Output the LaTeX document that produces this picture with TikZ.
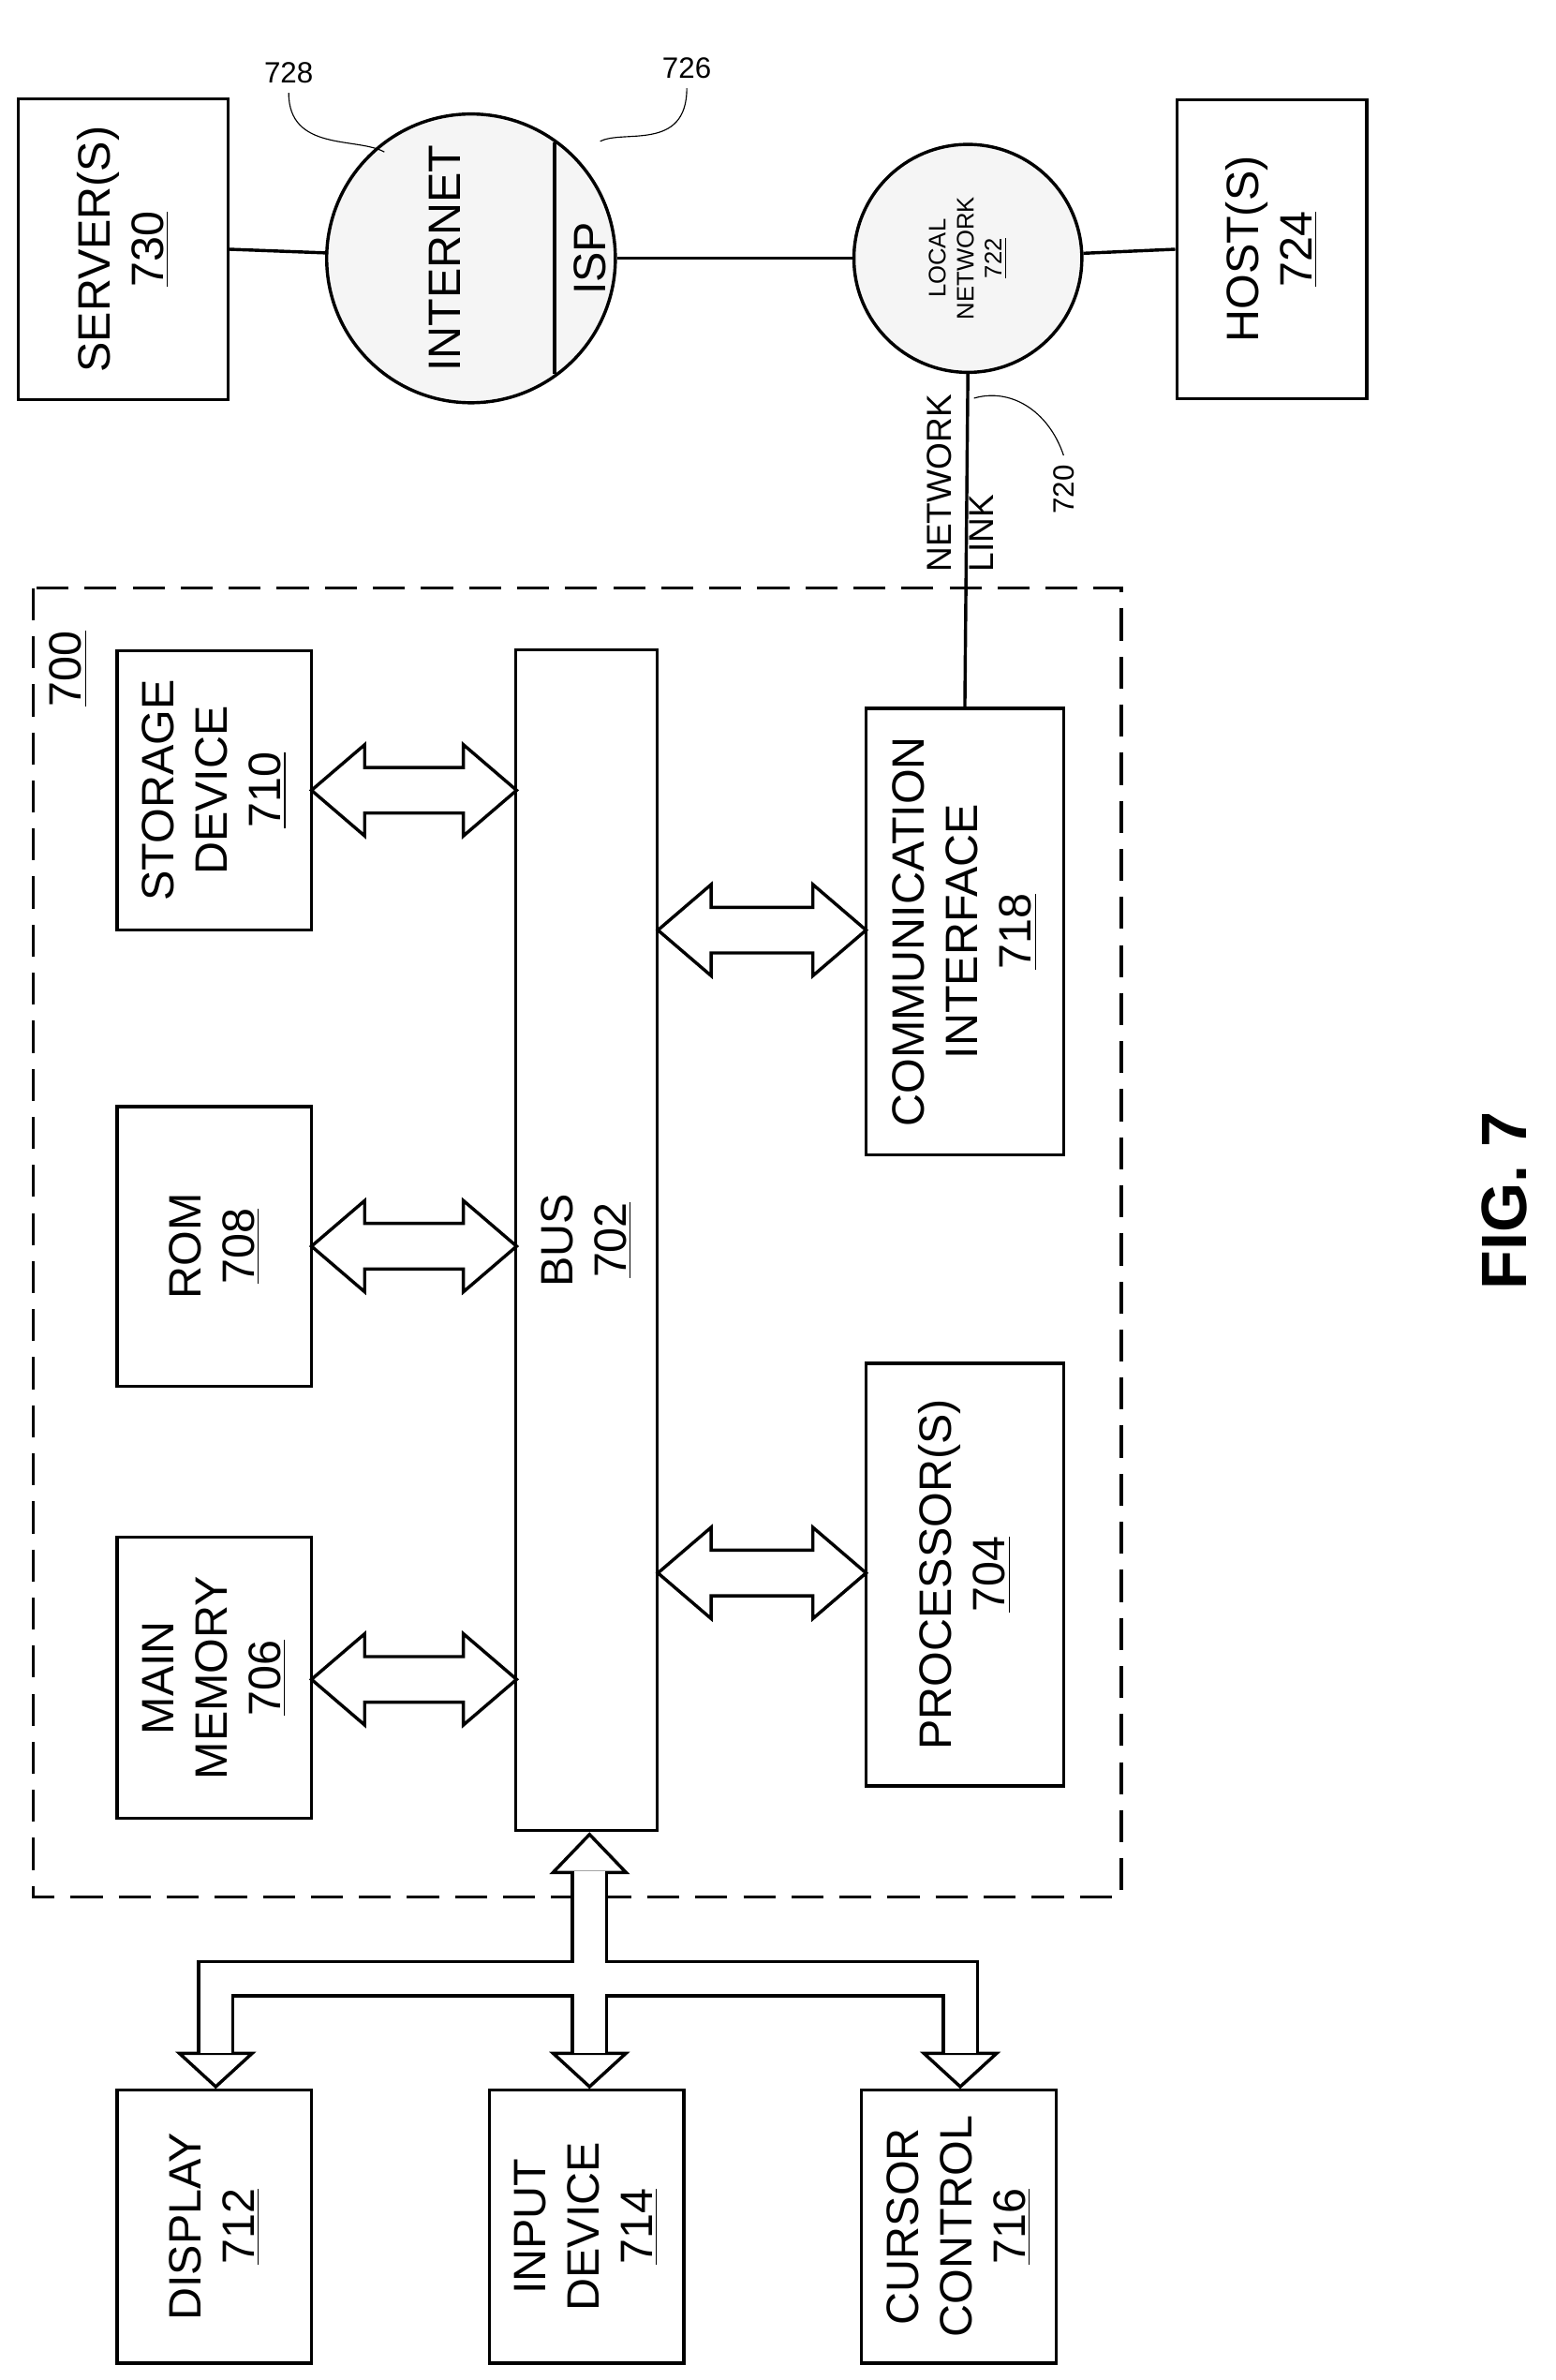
\documentclass[tikz,border=0pt]{standalone}
\usepackage{fontspec}
\setmainfont{Liberation Sans}
\usetikzlibrary{positioning}
\tikzset{
  blk/.style={draw,line width=1.2pt,rotate=90,align=center,font=\fontsize{17}{20}\selectfont},
  ref/.style={font=\fontsize{11}{13}\selectfont},
  cloud/.style={draw,circle,line width=1.2pt,fill=gray!8},
  wire/.style={line width=1.2pt},
}
\newcommand\biarrow[3]{%
  \draw[line width=1.2pt,fill=white,line join=miter]
    (#1,#3) -- (#1+35,#3-30) -- (#1+35,#3-15) -- (#2-35,#3-15) -- (#2-35,#3-30)
    -- (#2,#3) -- (#2-35,#3+30) -- (#2-35,#3+15) -- (#1+35,#3+15) -- (#1+35,#3+30) -- cycle;}
\newcommand\downhead[2]{%
  \draw[line width=1.2pt,fill=white] (#1-24,#2-22) -- (#1+24,#2-22) -- (#1,#2) -- cycle;}
\newcommand\treepath{(388,1230) -- (388,1302) (142,1352) -- (142,1302) -- (632,1302) -- (632,1352)
  (388,1302) -- (388,1352)}
\begin{document}
\begin{tikzpicture}[x=0.02cm,y=-0.02cm]
\useasboundingbox (0,0) rectangle (1024,1566);
% top network
\node[blk,minimum width=198*0.02cm,minimum height=138*0.02cm] (srv) at (81,164) {SERVER(S)\\\underline{730}};
\node[blk,minimum width=197*0.02cm,minimum height=125*0.02cm] (host) at (837,164) {HOST(S)\\\underline{724}};
\node[cloud,minimum size=190*0.02cm] (inet) at (310,170) {};
\node[cloud,minimum size=150*0.02cm] (lan) at (637,170) {};
\draw[wire] (srv.south) -- (inet);
\draw[wire] (inet) -- (lan);
\draw[wire] (lan) -- (host.north);
\draw[wire] (365,94) -- (365,246);
\node[rotate=90,font=\fontsize{17}{20}\selectfont] (inettxt) at (293,170) {INTERNET};
\node[rotate=90,font=\fontsize{17}{20}\selectfont] (isptxt) at (388,170) {ISP};
\node[rotate=90,align=center,font=\fontsize{9}{10.5}\selectfont] (lantxt) at (637,170) {LOCAL\\NETWORK\\\underline{722}};
\node[ref] (r728) at (190,48) {728};
\node[ref] (r726) at (452,45) {726};
\node[ref,rotate=90] (r720) at (700,322) {720};
\draw (r728.south) .. controls (190,100) and (235,90) .. (253,100);
\draw (r726.south) .. controls (452,100) and (410,85) .. (395,93);
\draw (r720.east) .. controls (690,270) and (665,255) .. (641,262);
% computer
\draw[wire,dash pattern=on 12pt off 6pt] (22,387) rectangle (738,1248);
\node[rotate=90,font=\fontsize{17}{20}\selectfont] (sys) at (45,440) {\underline{700}};
\node[blk,minimum width=777*0.02cm,minimum height=93*0.02cm] (bus) at (386,816) {BUS\\\underline{702}};
\node[blk,minimum width=184*0.02cm,minimum height=128*0.02cm] (stor) at (141,520) {STORAGE\\DEVICE\\\underline{710}};
\node[blk,minimum width=184*0.02cm,minimum height=128*0.02cm] (rom) at (141,820) {ROM\\\underline{708}};
\node[blk,minimum width=185*0.02cm,minimum height=128*0.02cm] (mem) at (141,1104) {MAIN\\MEMORY\\\underline{706}};
\node[blk,minimum width=294*0.02cm,minimum height=130*0.02cm] (comm) at (635,613) {COMMUNICATION\\INTERFACE\\\underline{718}};
\node[blk,minimum width=278*0.02cm,minimum height=130*0.02cm] (proc) at (635,1036) {PROCESSOR(S)\\\underline{704}};
\biarrow{205}{340}{520}
\biarrow{205}{340}{820}
\biarrow{205}{340}{1105}
\biarrow{433}{570}{612}
\biarrow{433}{570}{1035}
\draw[wire] (comm.east) -- (lan.south);
\node[rotate=90,align=left,font=\fontsize{13}{16}\selectfont] (nl) at (632,318) {NETWORK\\LINK};
% peripherals
\node[blk,minimum width=180*0.02cm,minimum height=128*0.02cm] (disp) at (141,1465) {DISPLAY\\\underline{712}};
\node[blk,minimum width=180*0.02cm,minimum height=128*0.02cm] (inp) at (386,1465) {INPUT\\DEVICE\\\underline{714}};
\node[blk,minimum width=180*0.02cm,minimum height=128*0.02cm] (cur) at (631,1465) {CURSOR\\CONTROL\\\underline{716}};
\draw[line width=14pt,line join=miter] \treepath;
\draw[line width=1.2pt,fill=white] (364,1232) -- (412,1232) -- (388,1207) -- cycle;
\downhead{142}{1373}
\downhead{388}{1373}
\downhead{632}{1373}
\draw[line width=11.6pt,white,line join=miter] (388,1231) -- (388,1302) (142,1351) -- (142,1302) -- (632,1302) -- (632,1351)
  (388,1302) -- (388,1351);
\node[rotate=90,font=\bfseries\fontsize{24}{28}\selectfont] (fig) at (990,790) {FIG. 7};
\end{tikzpicture}
\end{document}
